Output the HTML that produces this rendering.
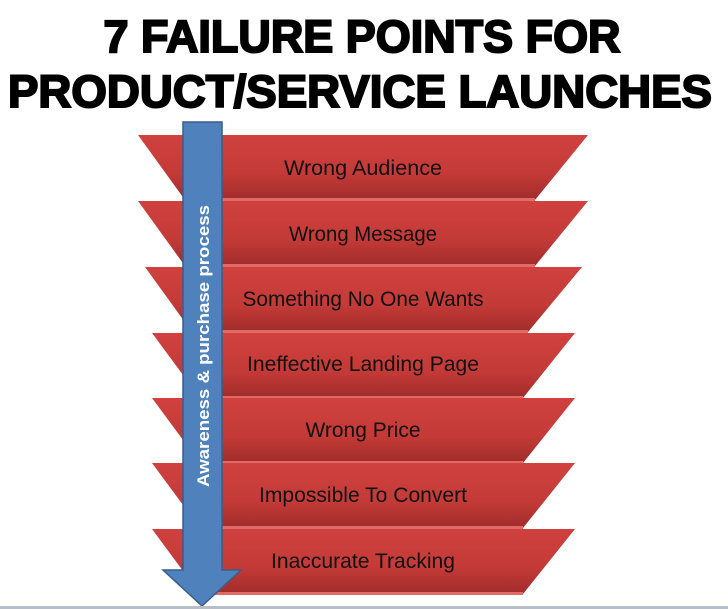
<!DOCTYPE html>
<html><head><meta charset="utf-8"><style>html,body{margin:0;padding:0;background:#fff}svg{display:block}</style></head><body>
<svg width="728" height="609" viewBox="0 0 728 609" xmlns="http://www.w3.org/2000/svg">
<defs>
<linearGradient id="g" x1="0" y1="0" x2="0" y2="1">
<stop offset="0" stop-color="#d0413f"/><stop offset="0.6" stop-color="#c33a37"/><stop offset="1" stop-color="#a02c2a"/>
</linearGradient>
</defs>
<text x="362" y="52" text-anchor="middle" font-family="Liberation Sans, sans-serif" font-weight="bold" font-size="45" textLength="517" lengthAdjust="spacingAndGlyphs" stroke="#000" stroke-width="2">7 FAILURE POINTS FOR</text>
<text x="360" y="107" text-anchor="middle" font-family="Liberation Sans, sans-serif" font-weight="bold" font-size="45" textLength="704" lengthAdjust="spacingAndGlyphs" stroke="#000" stroke-width="2">PRODUCT/SERVICE LAUNCHES</text>
<g font-family="Liberation Sans, sans-serif" font-size="21" text-anchor="middle" fill="#111">
<polygon points="138,135 588,135 535,200 185,200" fill="url(#g)"/><rect x="185" y="198" width="350" height="3" fill="#e06a66"/>
<text x="363" y="175" textLength="158" lengthAdjust="spacingAndGlyphs">Wrong Audience</text>
<polygon points="138,201 588,201 535,266 185,266" fill="url(#g)"/><rect x="185" y="264" width="350" height="3" fill="#e06a66"/>
<text x="363" y="241" textLength="148" lengthAdjust="spacingAndGlyphs">Wrong Message</text>
<polygon points="145,267 582,267 528,332 192,332" fill="url(#g)"/><rect x="192" y="330" width="336" height="3" fill="#e06a66"/>
<text x="363" y="306" textLength="241" lengthAdjust="spacingAndGlyphs">Something No One Wants</text>
<polygon points="152,333 575,333 523,398 200,398" fill="url(#g)"/><rect x="200" y="396" width="323" height="3" fill="#e06a66"/>
<text x="363" y="371" textLength="232" lengthAdjust="spacingAndGlyphs">Ineffective Landing Page</text>
<polygon points="152,398 575,398 523,463 200,463" fill="url(#g)"/><rect x="200" y="461" width="323" height="3" fill="#e06a66"/>
<text x="363" y="437" textLength="115" lengthAdjust="spacingAndGlyphs">Wrong Price</text>
<polygon points="152,463 575,463 523,528 200,528" fill="url(#g)"/><rect x="200" y="526" width="323" height="3" fill="#e06a66"/>
<text x="363" y="502" textLength="208" lengthAdjust="spacingAndGlyphs">Impossible To Convert</text>
<polygon points="152,529 575,529 523,594 200,594" fill="url(#g)"/><rect x="200" y="592" width="323" height="3" fill="#e06a66"/>
<text x="363" y="568" textLength="184" lengthAdjust="spacingAndGlyphs">Inaccurate Tracking</text>
</g>
<polygon points="183,122 222,122 222,570 241,570 202,606 163,570 183,570" fill="#4f81bd" stroke="#385d8a" stroke-width="1.5"/>
<text transform="translate(209,346) rotate(-90)" text-anchor="middle" font-family="Liberation Sans, sans-serif" font-weight="bold" font-size="17" textLength="282" lengthAdjust="spacingAndGlyphs" fill="#fff">Awareness &amp; purchase process</text>
<rect x="0" y="606" width="728" height="3" fill="#b8bec8"/>
</svg>
</body></html>
